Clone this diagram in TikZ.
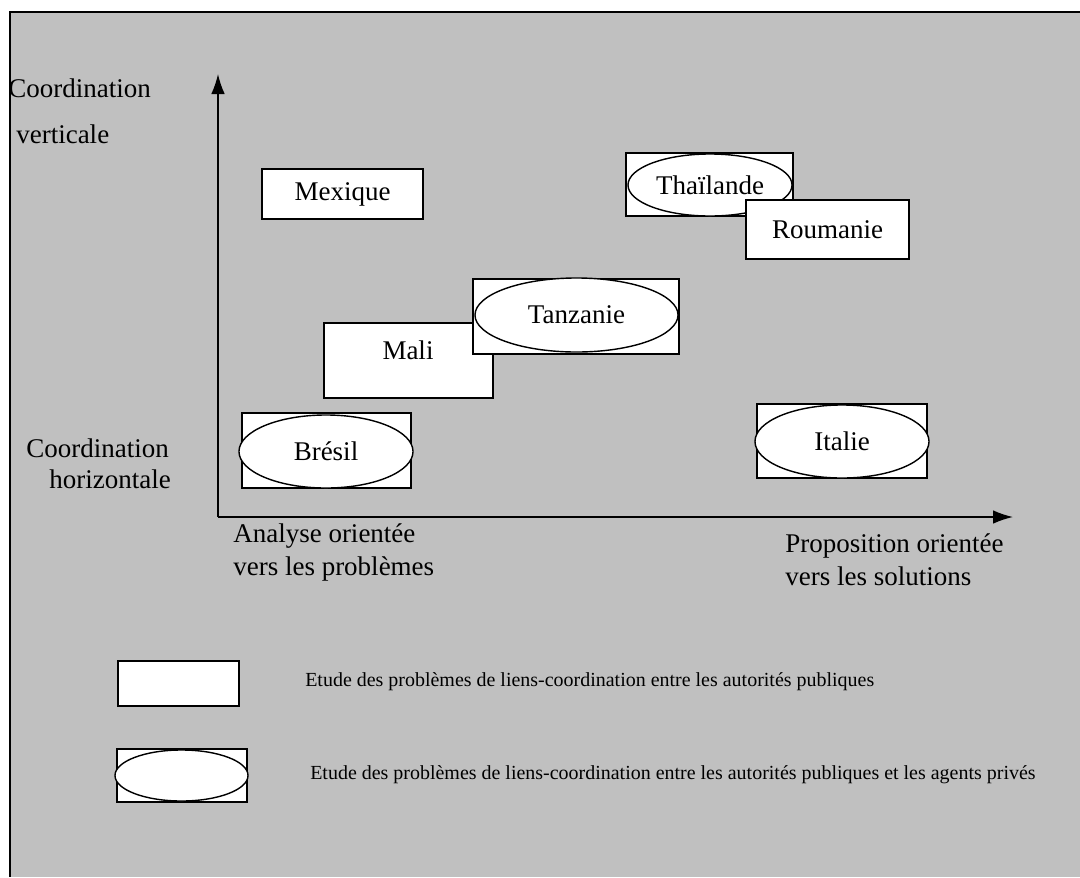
\documentclass[tikz,border=0pt]{standalone}
\usepackage{fontspec}
\setmainfont{Liberation Serif}
\usepackage{tikz}
\usetikzlibrary{shapes}
\usetikzlibrary{arrows.meta}
\definecolor{fond}{RGB}{192,192,192}
\tikzset{
	pays node/.style={draw,fill=white,line width=1pt,inner sep=0pt,font=\fontsize{19.2pt}{23pt}\selectfont},
	prive node/.style={ellipse,draw,fill=white,line width=1pt,inner sep=0pt,font=\fontsize{19.2pt}{23pt}\selectfont},
	etiquette/.style={anchor=base west,inner sep=0pt,font=\fontsize{19.2pt}{23pt}\selectfont},
	legende/.style={anchor=base west,inner sep=0pt,font=\fontsize{14.2pt}{17pt}\selectfont}
}

\begin{document}
\begin{tikzpicture}[x=0.025cm,y=-0.025cm,>={Latex[length=5mm,width=3.4mm]}]
	\useasboundingbox (0,0) rectangle (1080,877);
	\fill[fond] (10,12) rectangle (1080,877);
	\draw[line width=1.2pt] (1080,12) -- (10,12) -- (10,877);
	% axes
	\coordinate (origine) at (218,517);
	\coordinate (haut) at (218,74);
	\coordinate (droite) at (1013,517);
	\draw[->,line width=1.1pt] (origine) -- (haut);
	\draw[->,line width=1.1pt] (origine) -- (droite);
	\node[etiquette] (cv1) at (8,97) {Coordination};
	\node[etiquette] (cv2) at (16,143) {verticale};
	\node[etiquette] (ch1) at (26,457) {Coordination};
	\node[etiquette] (ch2) at (49,488) {horizontale};
	\node[etiquette] (ap1) at (233,542) {Analyse orientée};
	\node[etiquette] (ap2) at (233,575) {vers les problèmes};
	\node[etiquette] (ps1) at (785,552) {Proposition orientée};
	\node[etiquette] (ps2) at (785,585) {vers les solutions};
	% pays
	\node[pays node,minimum width=4.025cm,minimum height=1.25cm] (mexique) at (342.5,194) {Mexique};
	\node[pays node,minimum width=4.225cm,minimum height=1.875cm] (mali) at (408.5,360.5) {};
	\node[etiquette,anchor=center] (malit) at (408,350) {Mali};
	\node[pays node,minimum width=5.15cm,minimum height=1.875cm] (tanzanie) at (576,316.5) {};
	\node[prive node,minimum width=5.075cm,minimum height=1.85cm] (tanzaniee) at (576.5,315) {Tanzanie};
	\node[pays node,minimum width=4.225cm,minimum height=1.875cm] (bresil) at (326.5,450.5) {};
	\node[prive node,minimum width=4.35cm,minimum height=1.825cm] (bresile) at (326,451.5) {Brésil};
	\node[pays node,minimum width=4.175cm,minimum height=1.575cm] (thailande) at (709.5,184.5) {};
	\node[prive node,minimum width=4.1cm,minimum height=1.55cm] (thailandee) at (710,185) {Thaïlande};
	\node[pays node,minimum width=4.075cm,minimum height=1.475cm] (roumanie) at (827.5,229.5) {Roumanie};
	\node[pays node,minimum width=4.25cm,minimum height=1.85cm] (italie) at (842,441) {};
	\node[prive node,minimum width=4.35cm,minimum height=1.825cm] (italiee) at (842,441.5) {Italie};
	% legende
	\node[pays node,minimum width=3.025cm,minimum height=1.125cm] (leg1) at (178.5,683.5) {};
	\node[legende] (leg1t) at (305,686) {Etude des problèmes de liens-coordination entre les autorités publiques};
	\node[pays node,minimum width=3.25cm,minimum height=1.325cm] (leg2) at (182,775.5) {};
	\node[prive node,minimum width=3.325cm,minimum height=1.275cm] (leg2e) at (181.5,775.5) {};
	\node[legende] (leg2t) at (310,779) {Etude des problèmes de liens-coordination entre les autorités publiques et les agents privés};
\end{tikzpicture}
\end{document}
